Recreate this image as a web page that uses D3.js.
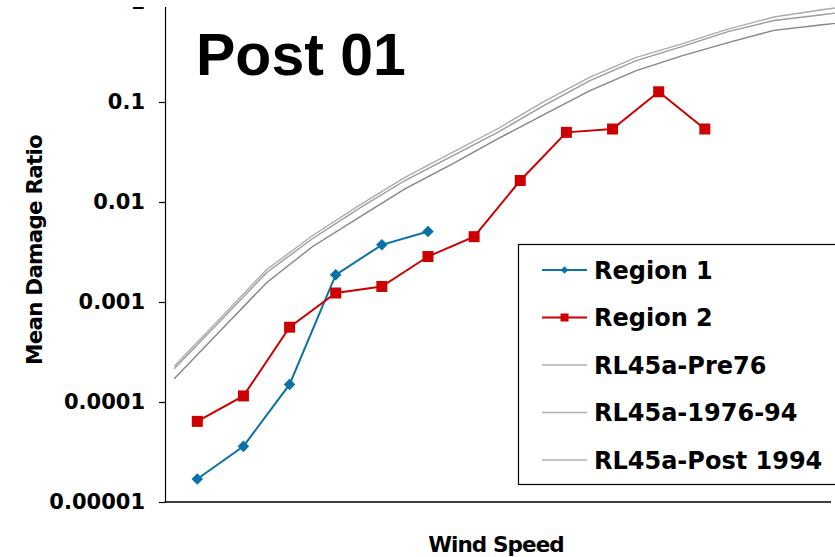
<!DOCTYPE html>
<html>
<head>
<meta charset="utf-8">
<script src="https://cdn.jsdelivr.net/npm/d3@7"></script>
<style>
  body { margin: 0; background: #fff; }
  svg text { font-family: "DejaVu Sans", sans-serif; font-weight: bold; fill: #000; }
</style>
</head>
<body>
<div id="chart"></div>
<script>
// Observed mean damage ratios by wind speed (mph)
const regionSpeeds = [55, 65, 75, 85, 95, 105, 115, 125, 135, 145, 155, 165];
const region1 = [0.000017, 0.000036, 0.00015, 0.00187, 0.00373, 0.00507];
const region2 = [0.000064, 0.000115, 0.00056, 0.00123, 0.00143, 0.00285,
                 0.0045, 0.0164, 0.0497, 0.0537, 0.1265, 0.0537];

// RL45a model curves
const curveSpeeds = [50, 60, 70, 80, 90, 100, 110, 120, 130, 140, 150, 160, 170, 180, 190, 200];
const pre76 = [0.000228, 0.00069, 0.0021, 0.00462, 0.0092, 0.0176, 0.0308, 0.0537,
               0.1005, 0.176, 0.278, 0.381, 0.535, 0.708, 0.832, 0.955];
const mid7694 = [0.000215, 0.00065, 0.00196, 0.00432, 0.0086, 0.0164, 0.0284, 0.0493,
                 0.0916, 0.163, 0.258, 0.358, 0.506, 0.653, 0.741, 0.851];
const post94 = [0.000171, 0.000516, 0.00156, 0.00359, 0.00698, 0.0135, 0.0236, 0.0425,
                0.0745, 0.129, 0.205, 0.289, 0.393, 0.52, 0.589, 0.661];

const yTicks = [0.00001, 0.0001, 0.001, 0.01, 0.1, 1];
const yTickLabels = ["0.00001", "0.0001", "0.001", "0.01", "0.1", "1"];
const legendNames = ["Region 1", "Region 2", "RL45a-Pre76", "RL45a-1976-94", "RL45a-Post 1994"];

const width = 835, height = 557;
const plot = {left: 165, right: 831, top: 7, bottom: 502};

const svg = d3.select("#chart")
    .append("svg")
    .attr("width", width)
    .attr("height", height);

// Scales
const x = d3.scaleLinear()
    .domain([48, 193])
    .range([165, 834]);
const y = d3.scaleLog()
    .domain([0.00001, 1])
    .range([502, 2]);

// top of the chart is cut off in the original
svg.append("clipPath")
    .attr("id", "cut")
    .append("rect")
    .attr("x", -plot.left).attr("y", plot.top)
    .attr("width", width).attr("height", height);

// Y axis
const yAxis = svg.append("g")
    .attr("clip-path", "url(#cut)")
    .attr("transform", `translate(${plot.left},0)`)
    .call(d3.axisLeft(y)
        .tickValues(yTicks)
        .tickFormat((d, i) => yTickLabels[i])
        .tickSize(6)
        .tickSizeOuter(0)
        .tickPadding(14));
yAxis.attr("font-family", null).attr("font-size", null);
yAxis.select(".domain").attr("stroke", "#000").attr("stroke-width", 1.2);
yAxis.selectAll(".tick line").attr("stroke", "#000").attr("stroke-width", 1.2);
yAxis.selectAll(".tick text")
    .attr("font-size", 21)
    .attr("fill", "#000");

// X axis (no ticks)
svg.append("line")
    .attr("x1", plot.left).attr("x2", plot.right)
    .attr("y1", plot.bottom).attr("y2", plot.bottom)
    .attr("stroke", "#000")
    .attr("stroke-width", 1.5);

// Model curves
const curveLine = d3.line()
    .x((d, i) => x(curveSpeeds[i]))
    .y(d => y(d));

const curves = [
    {values: pre76, color: "#ababab"},
    {values: mid7694, color: "#9b9b9b"},
    {values: post94, color: "#858585"}
];
svg.selectAll(".curve")
    .data(curves)
    .enter().append("path")
    .attr("class", "curve")
    .attr("d", d => curveLine(d.values))
    .attr("fill", "none")
    .attr("stroke", d => d.color)
    .attr("stroke-width", 1.4);

// Observed series
const obsLine = d3.line()
    .x((d, i) => x(regionSpeeds[i]))
    .y(d => y(d));

const blue = "#0a72a8", red = "#cc0000";

svg.append("path")
    .attr("d", obsLine(region1))
    .attr("fill", "none")
    .attr("stroke", blue)
    .attr("stroke-width", 2);
svg.selectAll(".r1")
    .data(region1)
    .enter().append("path")
    .attr("class", "r1")
    .attr("transform", (d, i) => `translate(${x(regionSpeeds[i])},${y(d)})`)
    .attr("d", d3.symbol().type(d3.symbolDiamond2).size(85))
    .attr("fill", blue);

svg.append("path")
    .attr("d", obsLine(region2))
    .attr("fill", "none")
    .attr("stroke", red)
    .attr("stroke-width", 2);
svg.selectAll(".r2")
    .data(region2)
    .enter().append("rect")
    .attr("class", "r2")
    .attr("x", (d, i) => x(regionSpeeds[i]) - 5.5)
    .attr("y", d => y(d) - 5.5)
    .attr("width", 11)
    .attr("height", 11)
    .attr("fill", red);

// Title
svg.append("text")
    .attr("x", 196)
    .attr("y", 75)
    .attr("font-size", 59)
    .style("font-family", "'Liberation Sans', Arial, sans-serif")
    .text("Post 01");

// Axis titles
svg.append("text")
    .attr("transform", "translate(42,250) rotate(-90)")
    .attr("text-anchor", "middle")
    .attr("font-size", 21.5)
    .attr("letter-spacing", -0.8)
    .text("Mean Damage Ratio");

svg.append("text")
    .attr("x", 496)
    .attr("y", 552)
    .attr("text-anchor", "middle")
    .attr("font-size", 21.5)
    .attr("letter-spacing", -0.9)
    .text("Wind Speed");

// Legend
const legend = svg.append("g");
legend.append("rect")
    .attr("x", 518.5).attr("y", 244.5)
    .attr("width", 330).attr("height", 240)
    .attr("fill", "#fff")
    .attr("stroke", "#000")
    .attr("stroke-width", 1.2);

const legendColors = [blue, red, "#b0b0b0", "#b0b0b0", "#b0b0b0"];
const rows = legend.selectAll(".row")
    .data(legendNames)
    .enter().append("g")
    .attr("class", "row")
    .attr("transform", (d, i) => `translate(0,${270 + i * 47.5})`);

rows.append("line")
    .attr("x1", 542).attr("x2", 587)
    .attr("stroke", (d, i) => legendColors[i])
    .attr("stroke-width", (d, i) => i < 2 ? 2 : 1.5);

rows.filter((d, i) => i === 0).append("path")
    .attr("transform", "translate(564.5,0)")
    .attr("d", d3.symbol().type(d3.symbolDiamond2).size(36))
    .attr("fill", blue);
rows.filter((d, i) => i === 1).append("rect")
    .attr("x", 560.5).attr("y", -4)
    .attr("width", 8).attr("height", 8)
    .attr("fill", red);

rows.append("text")
    .attr("x", 594)
    .attr("y", 8.5)
    .attr("font-size", 24)
    .text(d => d);
</script>
</body>
</html>
